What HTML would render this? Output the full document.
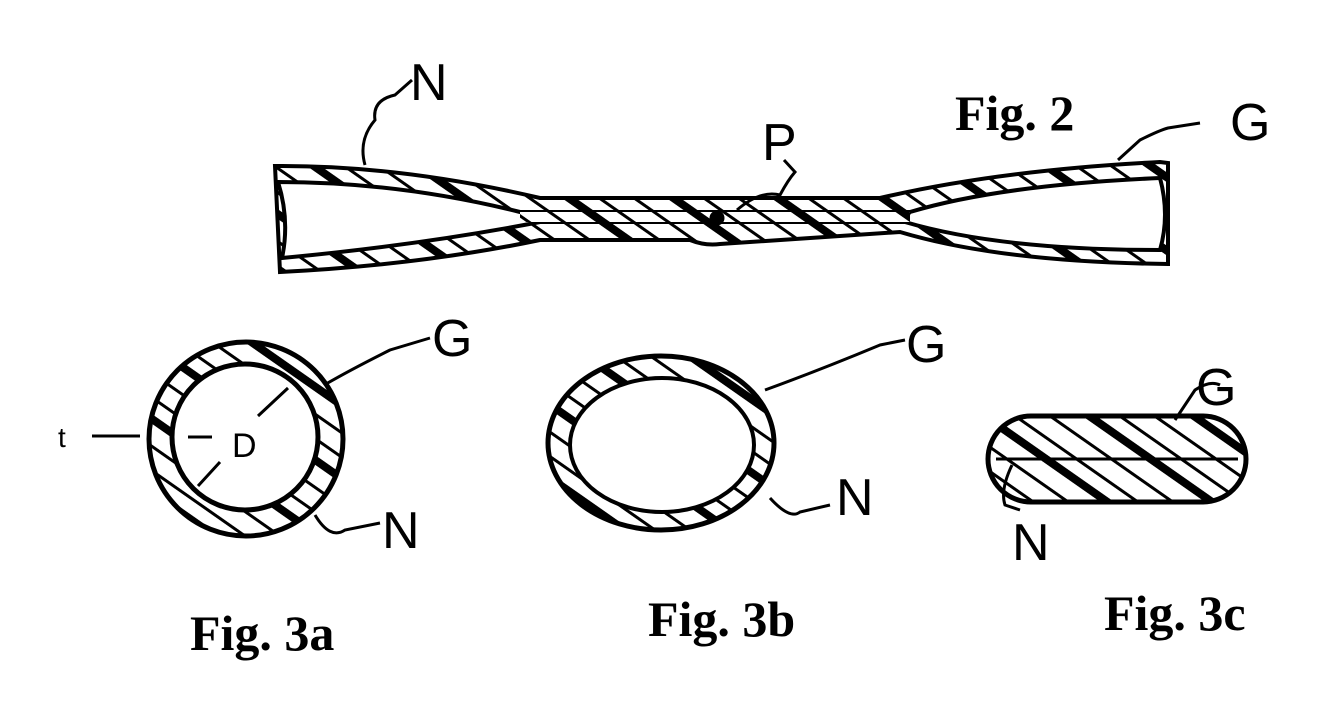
<!DOCTYPE html>
<html><head><style>
html,body{margin:0;padding:0;background:#fff;}
svg{display:block}
text{font-family:"Liberation Serif",serif;font-weight:bold;fill:#000}
.h{font-family:"Liberation Sans",sans-serif;font-weight:normal}
</style></head><body>
<svg width="1344" height="711" viewBox="0 0 1344 711">
<defs>
<pattern id="hat" width="60" height="30" patternUnits="userSpaceOnUse" patternTransform="rotate(-55)">
<rect width="60" height="30" fill="#fff"/>
<rect x="0" y="0" width="3" height="30" fill="#000"/>
<rect x="20" y="0" width="3" height="30" fill="#000"/>
<rect x="40" y="0" width="8" height="30" fill="#000"/>
</pattern>
</defs>
<g stroke="#000" fill="none">
<!-- Fig 2 tube -->
<path d="M275,166 Q400,165 540,198 L880,198 Q1000,170 1160,162 L1168,163 L1168,264 Q1000,262 900,232 L720,244 Q705,246 690,240 L540,240 Q420,265 280,272 Z" fill="url(#hat)" stroke-width="4"/>
<path d="M278,182 Q400,182 520,212 L910,212 Q1000,185 1160,178 Q1170,215 1160,250 Q1000,250 905,222 L540,222 Q420,245 282,258 Q290,220 278,182 Z" fill="#fff" stroke-width="4"/>
<path d="M540,222 L905,222 M520,212 L540,222 M905,222 L910,212" stroke-width="3"/>
<rect x="520" y="212" width="390" height="10" fill="url(#hat)" stroke-width="0"/>
<circle cx="717" cy="218" r="7" fill="#000"/>
<path d="M365,165 Q358,140 375,120 Q372,100 395,95 L412,80" stroke-width="3"/>
<path d="M737,210 Q760,190 780,195 Q788,180 795,172 L784,160" stroke-width="3"/>
<path d="M1118,160 L1140,140 Q1160,130 1168,128 L1200,123" stroke-width="3"/>
<!-- Fig 3a -->
<circle cx="246" cy="439" r="97" fill="url(#hat)" stroke-width="5"/>
<circle cx="245" cy="437" r="73" fill="#fff" stroke-width="5"/>
<path d="M92,436 L140,436 M188,437 L212,437 M258,416 L288,388 M220,462 L198,486 M326,384 Q350,370 390,350 L430,338 M315,515 Q330,540 345,530 L380,523" stroke-width="3"/>
<!-- Fig 3b -->
<ellipse cx="661" cy="443" rx="113" ry="87" fill="url(#hat)" stroke-width="5"/>
<ellipse cx="662" cy="445" rx="92" ry="67" fill="#fff" stroke-width="4"/>
<path d="M765,390 Q820,370 880,345 L905,340 M770,498 Q790,520 800,512 L830,505" stroke-width="3"/>
<!-- Fig 3c -->
<rect x="988" y="416" width="258" height="86" rx="43" fill="url(#hat)" stroke-width="5"/>
<path d="M996,459 L1238,459" stroke-width="3"/>
<path d="M1175,420 L1195,390 Q1210,380 1220,385" stroke-width="3"/>
<path d="M1012,465 Q1000,490 1005,505 L1020,510" stroke-width="3"/>
</g>
<g class="h" font-size="52" fill="#000">
<text class="h" x="410" y="100">N</text>
<text class="h" x="762" y="160">P</text>
<text class="h" x="1230" y="140">G</text>
<text class="h" x="432" y="356">G</text>
<text class="h" x="906" y="362">G</text>
<text class="h" x="1196" y="405">G</text>
<text class="h" x="382" y="548">N</text>
<text class="h" x="836" y="515">N</text>
<text class="h" x="1012" y="560">N</text>
<text class="h" x="232" y="457" font-size="34">D</text>
<text class="h" x="58" y="447" font-size="28">t</text>
</g>
<text x="955" y="130" font-size="50">Fig. 2</text>
<text x="190" y="650" font-size="50">Fig. 3a</text>
<text x="648" y="636" font-size="50">Fig. 3b</text>
<text x="1104" y="630" font-size="50">Fig. 3c</text>
</svg>
</body></html>
